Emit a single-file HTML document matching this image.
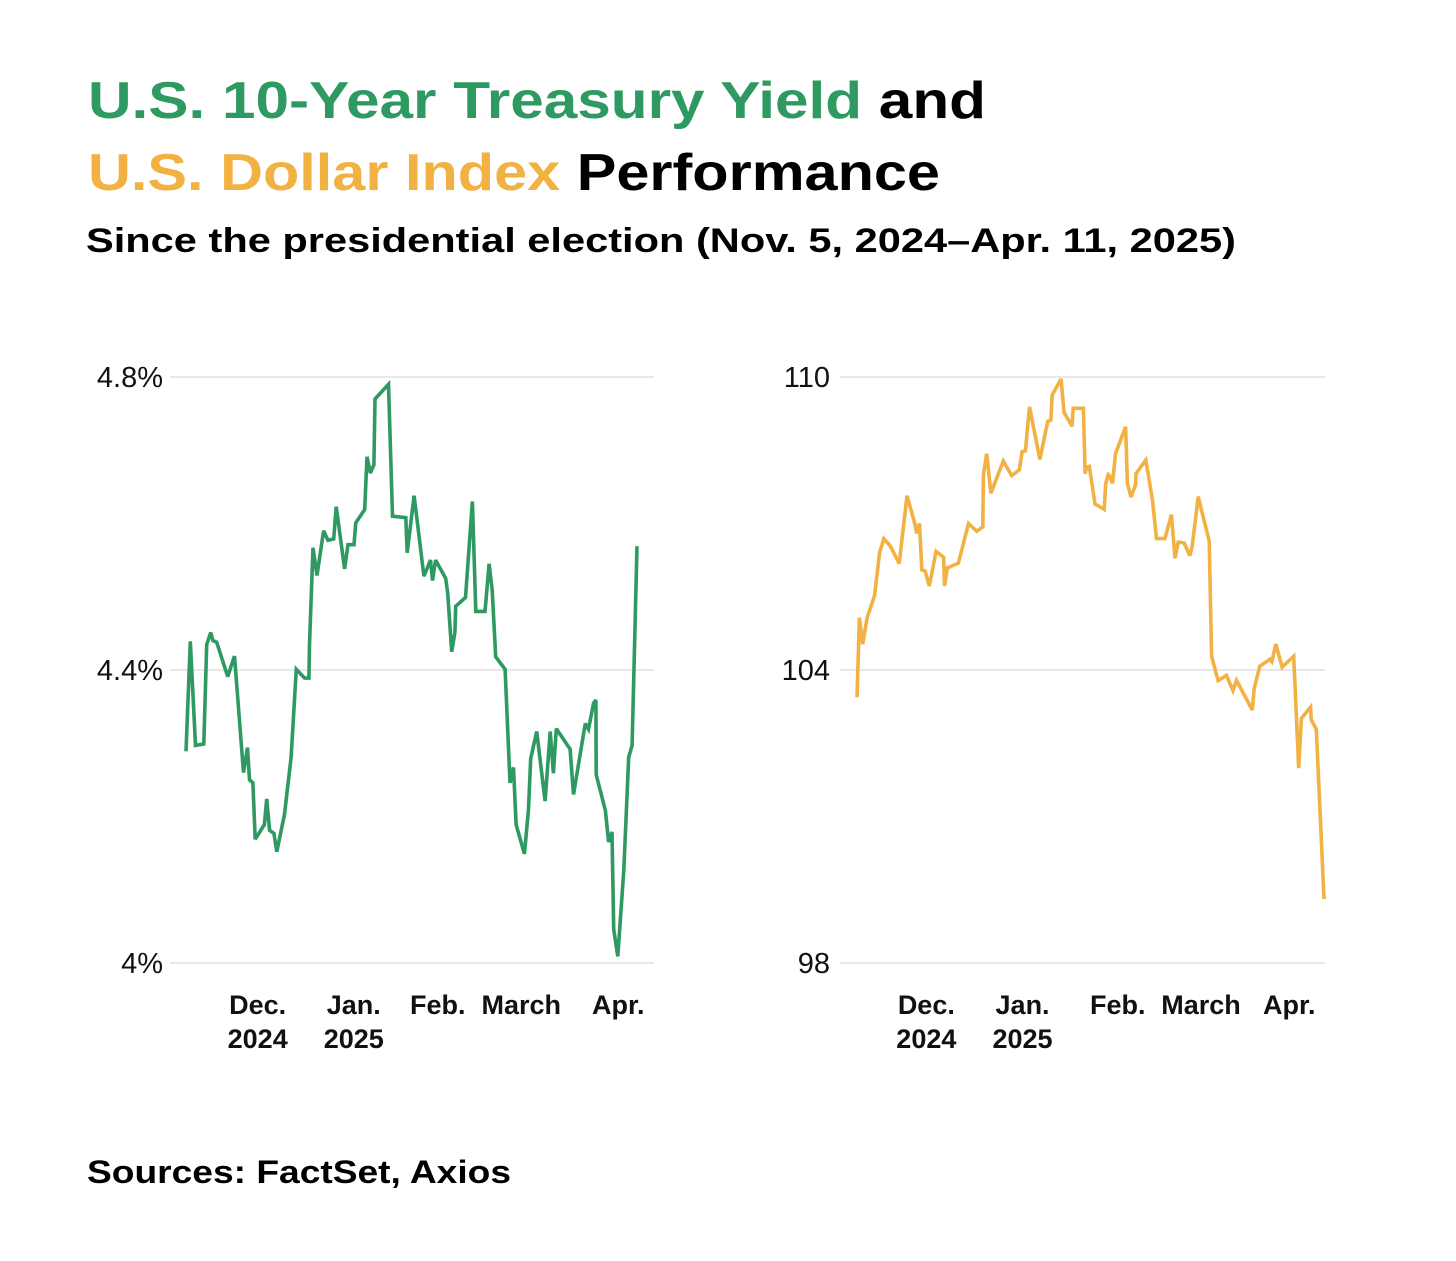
<!DOCTYPE html>
<html><head><meta charset="utf-8"><style>
html,body{margin:0;padding:0;background:#fff;}
svg{display:block;font-family:"Liberation Sans",sans-serif;}
</style></head><body>
<svg id="chart" width="1456" height="1261" viewBox="0 0 1456 1261">
<text x="88" y="118" font-size="52" font-weight="bold" textLength="898" lengthAdjust="spacingAndGlyphs"><tspan fill="#2e9a62">U.S. 10-Year Treasury Yield</tspan><tspan fill="#000"> and</tspan></text>
<text x="88" y="190" font-size="52" font-weight="bold" textLength="852" lengthAdjust="spacingAndGlyphs"><tspan fill="#f2b143">U.S. Dollar Index</tspan><tspan fill="#000"> Performance</tspan></text>
<text x="86" y="252" font-size="34" font-weight="bold" fill="#000" textLength="1150" lengthAdjust="spacingAndGlyphs">Since the presidential election (Nov. 5, 2024–Apr. 11, 2025)</text>
<text x="87" y="1183" font-size="32" font-weight="bold" fill="#000" textLength="424" lengthAdjust="spacingAndGlyphs">Sources: FactSet, Axios</text>
<g id="left"></g>
<g id="right"></g>
</svg>
<script>
const yieldDays=[0,1.5,3.3,6.2,7.2,8.6,9.4,10.7,14.5,16.9,20.0,21.4,22.1,23.3,24.1,27.3,28.1,29.1,30.6,31.6,34.3,36.6,38.4,41.3,42.8,43.0,44.2,45.6,47.9,49.4,51.4,52.3,55.2,56.4,58.5,59.1,62.2,63.0,64.2,65.4,65.8,70.5,71.9,76.5,77.0,79.4,82.8,85.1,85.8,86.9,90.4,91.1,92.5,93.6,93.9,97.3,99.7,100.9,104.1,105.5,106.6,107.8,111.1,112.8,114.0,114.9,117.8,119.2,120.0,122.1,125.0,126.8,127.9,128.9,133.7,134.9,139.0,140.1,141.9,142.7,142.8,146.0,147.1,148.3,148.9,150.3,152.4,154.1,155.3,157];
const yieldValues=[4.289,4.439,4.297,4.299,4.435,4.451,4.440,4.438,4.391,4.419,4.260,4.294,4.250,4.246,4.169,4.189,4.224,4.181,4.177,4.152,4.203,4.281,4.401,4.389,4.389,4.435,4.567,4.529,4.590,4.577,4.579,4.623,4.538,4.571,4.571,4.601,4.619,4.691,4.669,4.680,4.770,4.790,4.610,4.608,4.560,4.638,4.528,4.550,4.522,4.550,4.525,4.505,4.425,4.451,4.487,4.499,4.630,4.480,4.480,4.545,4.509,4.418,4.401,4.246,4.267,4.189,4.149,4.208,4.279,4.316,4.221,4.316,4.259,4.320,4.292,4.230,4.327,4.319,4.355,4.359,4.257,4.208,4.165,4.179,4.046,4.009,4.127,4.281,4.297,4.569];
const dxyDays=[0,0.8,1.9,3.4,5.9,7.6,9.0,11.2,14.2,15.7,16.8,19.2,20.1,21.0,21.8,22.9,24.3,26.6,29.1,29.4,30.4,34.1,37.5,40.3,42.3,42.5,43.6,45.0,49.2,52.0,54.6,55.5,56.6,58.0,61.5,64.1,65.2,65.6,68.6,69.6,72.3,72.7,76.1,76.7,77.2,78.1,80.0,83.1,83.6,84.5,85.0,85.9,86.9,90.3,90.9,92.1,93.7,93.8,97.1,99.3,100.7,103.5,105.7,106.9,108.0,110.0,111.9,112.7,114.7,118.4,119.2,121.4,124.2,126.4,127.6,132.9,133.5,135.4,138.8,139.5,140.8,142.9,146.8,148.5,149.4,152.5,152.7,154.4,157];
const dxyValues=[103.44,105.07,104.53,105.07,105.52,106.40,106.69,106.54,106.18,106.98,107.57,107.05,106.80,107.00,106.05,106.03,105.72,106.43,106.31,105.72,106.09,106.19,107.00,106.84,106.93,108.00,108.43,107.62,108.28,107.98,108.10,108.47,108.49,109.39,108.31,109.09,109.12,109.63,109.96,109.28,108.99,109.36,109.36,108.02,108.15,108.17,107.40,107.29,107.82,108.00,107.97,107.82,108.43,108.98,107.82,107.54,107.80,108.02,108.30,107.49,106.69,106.69,107.18,106.29,106.62,106.60,106.34,106.54,107.55,106.64,104.28,103.78,103.89,103.58,103.79,103.18,103.61,104.08,104.22,104.17,104.53,104.06,104.28,101.99,103.01,103.24,102.98,102.79,99.31];
const yieldTicks=[4.0,4.4,4.8];
const yieldTickLabels=["4%","4.4%","4.8%"];
const dxyTicks=[98,104,110];
const dxyTickLabels=["98","104","110"];
const monthDays=[26,57,88,116,147];
const monthLine1=["Dec.","Jan.","Feb.","March","Apr."];
const monthLine2=["2024","2025","","",""];

const NS="http://www.w3.org/2000/svg";
function mk(tag,attrs,parent){const e=document.createElementNS(NS,tag);for(const k in attrs)e.setAttribute(k,attrs[k]);parent.appendChild(e);return e;}

function drawPanel(g,cfg){
  const xs=d=>cfg.x0+(d-0)/157*(cfg.x1-cfg.x0);
  const ys=v=>cfg.yTop+(cfg.vMax-v)/(cfg.vMax-cfg.vMin)*(cfg.yBot-cfg.yTop);
  cfg.ticks.forEach((t,i)=>{
    const gl=mk('line',{x1:cfg.gx0,x2:cfg.gx1,y1:ys(t),y2:ys(t),stroke:'#e8e8e8','stroke-width':2},g);
    
    
    const tl=mk('text',{x:cfg.labRight,y:ys(t)+10,'text-anchor':'end','font-size':29,fill:'#111'},g);
    tl.textContent=cfg.ticksLab[i];
    
    
  });
  monthDays.forEach((d,i)=>{
    const t1=mk('text',{x:xs(d)+cfg.labShift[i],y:1014,'text-anchor':'middle','font-size':27,'font-weight':'bold',fill:'#111'},g);
    t1.textContent=monthLine1[i];
    
    
    if(monthLine2[i]){
      const t2=mk('text',{x:xs(d)+cfg.labShift[i],y:1048,'text-anchor':'middle','font-size':27,'font-weight':'bold',fill:'#111'},g);
      t2.textContent=monthLine2[i];
      
      
    }
  });
  const pts=cfg.days.map((d,i)=>xs(d).toFixed(1)+','+ys(cfg.vals[i]).toFixed(1)).join(' ');
  const pl=mk('polyline',{points:pts,fill:'none',stroke:cfg.color,'stroke-width':3.6,'stroke-linejoin':'miter','stroke-miterlimit':3},g);
  
  
}
drawPanel(document.getElementById('left'),{x0:186,x1:637,yTop:377,yBot:963,vMax:4.8,vMin:4.0,gx0:170,gx1:654,labRight:163,ticks:yieldTicks,ticksLab:yieldTickLabels,days:yieldDays,vals:yieldValues,color:'#2e9a62',name:'treasury-yield-line',labShift:[-3,4,-1,2,10]});
drawPanel(document.getElementById('right'),{x0:857,x1:1324,yTop:377,yBot:963,vMax:110,vMin:98,gx0:840,gx1:1325,labRight:830,ticks:dxyTicks,ticksLab:dxyTickLabels,days:dxyDays,vals:dxyValues,color:'#f2b143',name:'dollar-index-line',labShift:[-8,-4,-1,-1,-5]});
</script>
</body></html>
